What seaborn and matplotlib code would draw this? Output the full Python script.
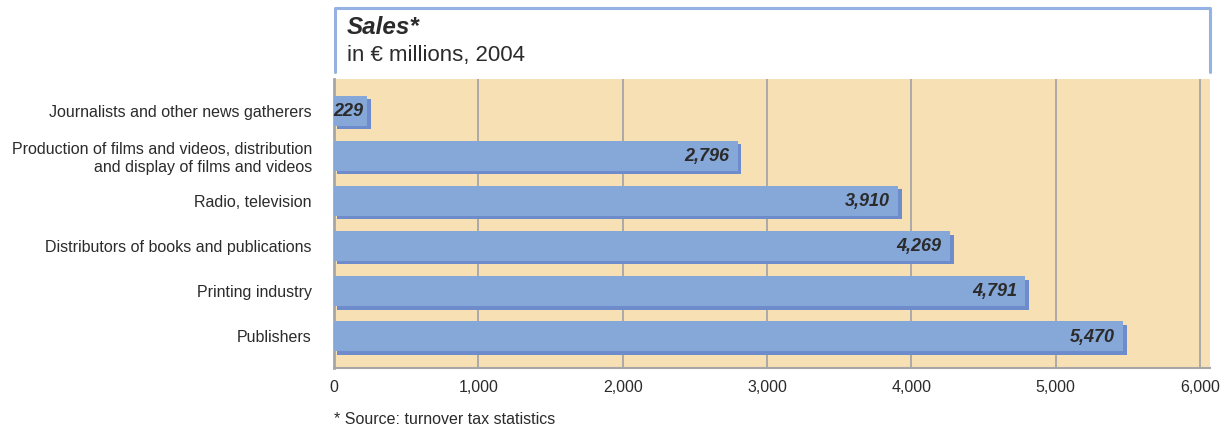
import matplotlib
matplotlib.use("Agg")
import matplotlib.pyplot as plt
import matplotlib.patheffects as pe
from matplotlib.lines import Line2D
import seaborn as sns
import pandas as pd

# Data
categories = [
    "Journalists and other news gatherers",
    "Production of films and videos, distribution\nand display of films and videos",
    "Radio, television",
    "Distributors of books and publications",
    "Printing industry",
    "Publishers",
]
sales = [229, 2796, 3910, 4269, 4791, 5470]
xticks = [0, 1000, 2000, 3000, 4000, 5000, 6000]

df = pd.DataFrame({"category": categories, "sales": sales})

sns.set_style("white")
plt.rcParams["font.family"] = ["Liberation Sans", "DejaVu Sans"]

bg = "#F8E0B5"
bar_color = "#86A8D9"
shadow_color = "#6E8CCB"
grid_color = "#A6A6A6"
text_color = "#2B2B2B"

fig = plt.figure(figsize=(12.21, 4.28), dpi=100)
ax = fig.add_axes([334 / 1221, 60 / 428, 876 / 1221, 289 / 428])
ax.set_facecolor(bg)

sns.barplot(data=df, x="sales", y="category", orient="h", color=bar_color,
            width=0.66, saturation=1, edgecolor="none", ax=ax, zorder=3)

# drop shadow on bars
for p in ax.patches:
    p.set_path_effects([pe.SimplePatchShadow(offset=(2.5, -2.5), shadow_rgbFace=shadow_color, alpha=1),
                        pe.Normal()])

# value labels inside the bar end (short bar gets a smaller gap)
for i, v in enumerate(sales):
    gap = -3 if v < 1000 else -6
    ax.annotate(f"{v:,}", xy=(v, i), xytext=(gap, -0.5), textcoords="offset points",
                ha="right", va="center", fontsize=13, fontweight="bold",
                fontstyle="italic", color=text_color, zorder=5)

ax.set_xlim(0, 6070)
ax.set_ylim(len(categories) - 0.5 + 0.2, -0.5 - 0.2)
ax.set_xticks(xticks)
ax.set_xticklabels([f"{t:,}" for t in xticks])
ax.xaxis.grid(True, color=grid_color, linewidth=1.3, zorder=1)
ax.set_axisbelow(True)
ax.set_xlabel("")
ax.set_ylabel("")

for s in ["top", "right"]:
    ax.spines[s].set_visible(False)
ax.spines["left"].set_color(grid_color)
ax.spines["left"].set_linewidth(2)
ax.spines["bottom"].set_color(grid_color)
ax.spines["bottom"].set_linewidth(1.5)

ax.tick_params(axis="x", length=6, width=1.3, color=grid_color, labelsize=11.5,
               labelcolor=text_color, pad=3)
ax.tick_params(axis="y", length=0, labelsize=11.5, labelcolor=text_color, pad=16)
for lab in ax.get_yticklabels():
    lab.set_horizontalalignment("right")
    lab.set_multialignment("right")

# title box (open at the bottom)
box_color = "#94B2E2"
x0, x1 = 335 / 1221, 1210 / 1221
y_top, y_bot = 1 - 8 / 428, 1 - 72 / 428
fig.add_artist(Line2D([x0, x0, x1, x1], [y_bot, y_top, y_top, y_bot],
                      transform=fig.transFigure, color=box_color, linewidth=2.2))
fig.text(347 / 1221, 1 - 28 / 428, "Sales*", fontsize=17.5, fontweight="bold",
         fontstyle="italic", color=text_color, va="center", ha="left")
fig.text(347 / 1221, 1 - 55 / 428, "in € millions, 2004", fontsize=16,
         color=text_color, va="center", ha="left")

fig.text(334 / 1221, 1 - 419 / 428, "* Source: turnover tax statistics",
         fontsize=11.5, color=text_color, va="center", ha="left")

fig.savefig("out.png", dpi=100, facecolor="white")
